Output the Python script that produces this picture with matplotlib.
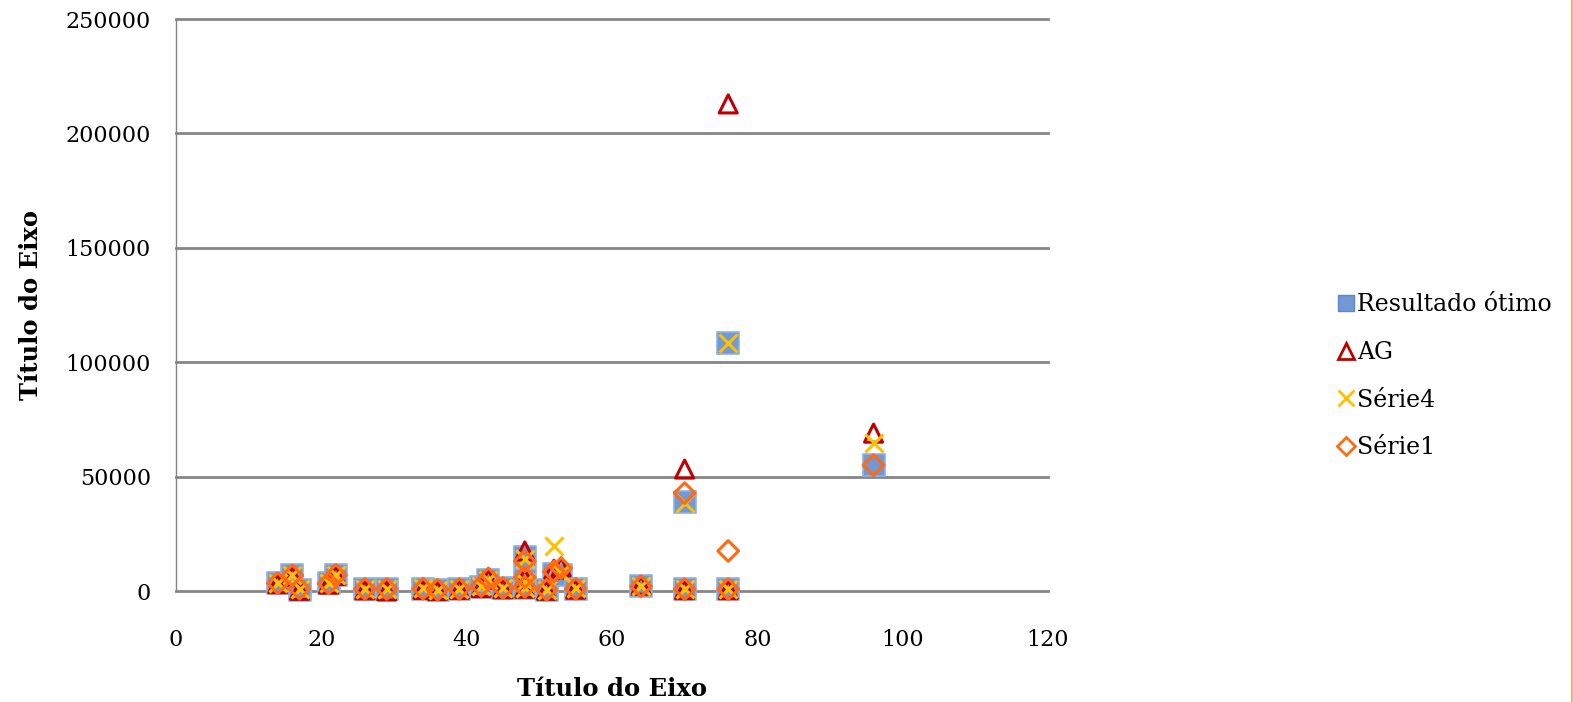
import matplotlib
matplotlib.use("Agg")
import matplotlib.pyplot as plt
from matplotlib.lines import Line2D

plt.rcParams['font.family'] = ['DejaVu Serif']

# Data
x_vals = [14, 16, 17, 21, 22, 26, 29, 34, 36, 39, 42, 43, 45, 48, 48, 48,
          51, 52, 53, 55, 64, 70, 70, 76, 76, 96]
resultado_otimo = [3500, 7000, 500, 3500, 7000, 900, 900, 1000, 500, 900, 1800, 5000, 1300,
                   15000, 5000, 1500, 500, 7500, 7000, 1000, 2000, 38900, 800, 108400, 800, 55000]
ag = [3200, 6500, 300, 3000, 6800, 500, 0, 700, 200, 700, 1500, 5200, 1000,
      17500, 5500, 1200, 300, 9500, 10500, 800, 2500, 53300, 600, 212900, 600, 69000]
serie4 = [3600, 7200, 800, 3700, 7200, 1000, 1000, 1200, 600, 1000, 2000, 5000, 1400,
          14000, 4000, 1500, 600, 19500, 8000, 1100, 2000, 38500, 900, 108400, 900, 64700]
serie1 = [3400, 6800, 1000, 3300, 7000, 900, 900, 1000, 500, 900, 2200, 5500, 1300,
          13000, 6000, 1800, 500, 8500, 10000, 1000, 2000, 42800, 800, 17500, 800, 55000]

series_names = ['Resultado ótimo', 'AG', 'Série4', 'Série1']
x_ticks = [0, 20, 40, 60, 80, 100, 120]
y_ticks = [0, 50000, 100000, 150000, 200000, 250000]

fig = plt.figure(figsize=(15.73, 7.02), dpi=100)
ax = fig.add_axes([0.1119, 0.1581, 0.5543, 0.8148])

grid_color = '#868686'
for yt in y_ticks:
    ax.axhline(yt, color=grid_color, lw=2.0, zorder=0, clip_on=False)

ax.scatter(x_vals, resultado_otimo, marker='s', s=15.5**2, facecolor='#7398D6',
           edgecolor='#8FB0E6', linewidths=1.2, zorder=2, label=series_names[0],
           clip_on=False)
ax.scatter(x_vals, ag, marker='^', s=13**2, facecolor='none',
           edgecolor='#C00000', linewidths=2.2, zorder=3, label=series_names[1],
           clip_on=False)
ax.scatter(x_vals, serie4, marker='x', s=13**2, color='#FFC000',
           linewidths=2.2, zorder=4, label=series_names[2], clip_on=False)
ax.scatter(x_vals, serie1, marker='D', s=10.5**2, facecolor='none',
           edgecolor='#FF6A13', linewidths=2.2, zorder=5, label=series_names[3],
           clip_on=False)

ax.set_xlim(0, 120)
ax.set_ylim(0, 250000)
ax.set_xticks(x_ticks)
ax.set_yticks(y_ticks)
ax.tick_params(axis='both', length=0, labelsize=16, colors='black')
ax.tick_params(axis='x', pad=27)
ax.tick_params(axis='y', pad=18)
for s in ['top', 'right', 'bottom']:
    ax.spines[s].set_visible(False)
ax.spines['left'].set_color(grid_color)
ax.spines['left'].set_linewidth(1.0)

ax.set_xlabel('Título do Eixo', fontsize=17.5, fontweight='bold', labelpad=19)
ax.set_ylabel('Título do Eixo', fontsize=17.5, fontweight='bold', labelpad=16)

handles = [
    Line2D([], [], marker='s', ls='none', markersize=12, markerfacecolor='#7398D6',
           markeredgecolor='#5B86D0'),
    Line2D([], [], marker='^', ls='none', markersize=11, markerfacecolor='none',
           markeredgecolor='#C00000', markeredgewidth=2),
    Line2D([], [], marker='x', ls='none', markersize=11, color='#FFC000',
           markeredgewidth=2),
    Line2D([], [], marker='D', ls='none', markersize=9, markerfacecolor='none',
           markeredgecolor='#FF6A13', markeredgewidth=2),
]
fig.legend(handles, series_names, loc='center left', bbox_to_anchor=(0.843, 0.464),
           frameon=False, fontsize=17, handlelength=0.7, handletextpad=0.1,
           labelspacing=1.05, borderpad=0)

fig.add_artist(Line2D([0.9993, 0.9993], [0, 1], transform=fig.transFigure,
                      color='#F4B183', lw=1.5))

fig.savefig('out.png', dpi=100)
